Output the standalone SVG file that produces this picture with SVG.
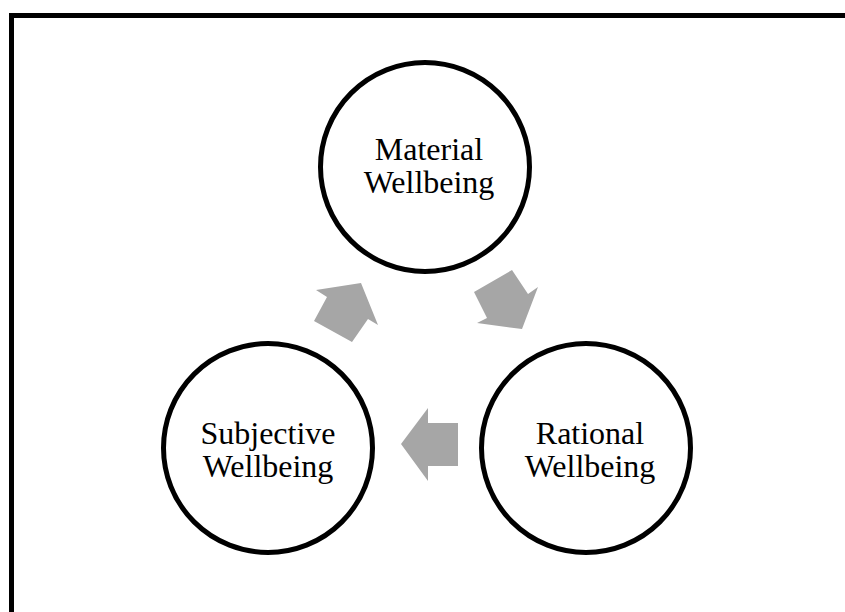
<svg xmlns="http://www.w3.org/2000/svg" width="845" height="612" viewBox="0 0 845 612">
  <style>
    .node { fill: #ffffff; stroke: #000000; stroke-width: 5; }
    .label { font-family: "Liberation Serif", "Times New Roman", serif; font-size: 32px; fill: #000000; text-anchor: middle; }
    .flow { fill: #a6a6a6; stroke: none; }
  </style>
  <rect x="0" y="0" width="845" height="612" fill="#ffffff"/>
  <!-- outer frame, running off the right and bottom edges -->
  <rect x="11.5" y="15.5" width="900" height="700" fill="none" stroke="#000000" stroke-width="5"/>

  <g id="connectors">
    <!-- Subjective -> Material -->
    <polygon class="flow" points="361,283 378,325 368,319 352,342 314,321 327,297 316,290"/>
    <!-- Material -> Rational -->
    <polygon class="flow" points="512,270 528,294 538,287 522,329 477,323 487,318 474,292"/>
    <!-- Rational -> Subjective -->
    <polygon class="flow" points="401,444 428,408 428,423 458,423 458,466 428,466 428,481"/>
  </g>

  <g id="material">
    <circle class="node" cx="425" cy="167" r="104.5"/>
    <text class="label" x="429" y="160">Material</text>
    <text class="label" x="429" y="193">Wellbeing</text>
  </g>

  <g id="subjective">
    <circle class="node" cx="268" cy="448" r="104.5"/>
    <text class="label" x="268" y="444">Subjective</text>
    <text class="label" x="268" y="477">Wellbeing</text>
  </g>

  <g id="rational">
    <circle class="node" cx="586" cy="448" r="104.5"/>
    <text class="label" x="590" y="444">Rational</text>
    <text class="label" x="590" y="477">Wellbeing</text>
  </g>
</svg>
